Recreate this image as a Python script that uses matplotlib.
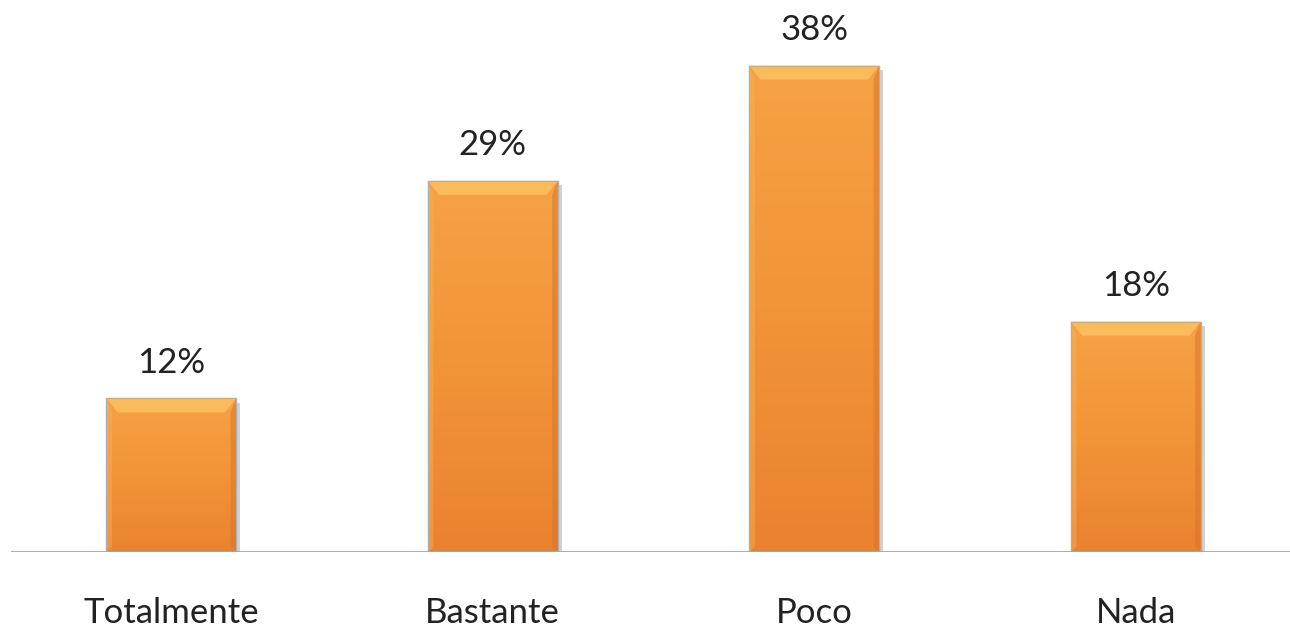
import numpy as np
import matplotlib.pyplot as plt
from matplotlib.colors import LinearSegmentedColormap
from matplotlib.patches import Polygon

categories = ["Totalmente", "Bastante", "Poco", "Nada"]
values = [12, 29, 38, 18]
labels = ["12%", "29%", "38%", "18%"]

W, H = 1290, 627
fig = plt.figure(figsize=(W / 100, H / 100), dpi=100)
ax = fig.add_axes([10.5 / W, 75 / H, 1286 / W, 512 / H])
ax.set_xlim(-0.5, len(categories) - 0.5)
ax.set_ylim(0, 40)
ax.axis("off")

plt.rcParams["font.family"] = ["Lato", "DejaVu Sans"]

bar_w = 0.404
grad = LinearSegmentedColormap.from_list("org", ["#EA822F", "#F29438", "#F6A244"])
x = np.arange(len(categories))

for i, v in enumerate(values):
    x0, x1 = x[i] - bar_w / 2, x[i] + bar_w / 2
    # shadow
    ax.bar(x[i] + 0.012, v, width=bar_w, bottom=-0.35, color="#000000", alpha=0.18, zorder=1)
    b = ax.bar(x[i], v, width=bar_w, color="#F29A3E", edgecolor="#B8B8B8", linewidth=1.0, zorder=2)[0]
    img = np.linspace(0, 1, 256).reshape(-1, 1)
    im = ax.imshow(img, cmap=grad, aspect="auto", extent=[x0, x1, 0, v], origin="lower", zorder=3)
    im.set_clip_path(b)
    # bevel highlights
    dx = 0.035
    dy = 1.1
    top = Polygon([[x0, v], [x1, v], [x1 - dx, v - dy], [x0 + dx, v - dy]],
                  closed=True, color="#FBC262", alpha=0.8, lw=0, zorder=4)
    ax.add_patch(top)
    right = Polygon([[x1, v], [x1, 0], [x1 - dx * 0.5, 0.4], [x1 - dx * 0.5, v - dy]],
                    closed=True, color="#D9742A", alpha=0.5, lw=0, zorder=4)
    ax.add_patch(right)
    left = Polygon([[x0, v], [x0, 0], [x0 + dx * 0.5, 0.4], [x0 + dx * 0.5, v - dy]],
                   closed=True, color="#F9B55A", alpha=0.4, lw=0, zorder=4)
    ax.add_patch(left)
    ax.bar(x[i], v, width=bar_w, fill=False, edgecolor="#B0B0B0", linewidth=0.8, zorder=5)
    ax.text(x[i], v + 2.8, labels[i], ha="center", va="center", fontsize=25, color="#222222")
    ax.text(x[i], -4.8, categories[i], ha="center", va="center", fontsize=25, color="#222222",
            clip_on=False)

ax.axhline(0, color="#A6A6A6", lw=2, zorder=6)

fig.savefig("out.png", dpi=100)
